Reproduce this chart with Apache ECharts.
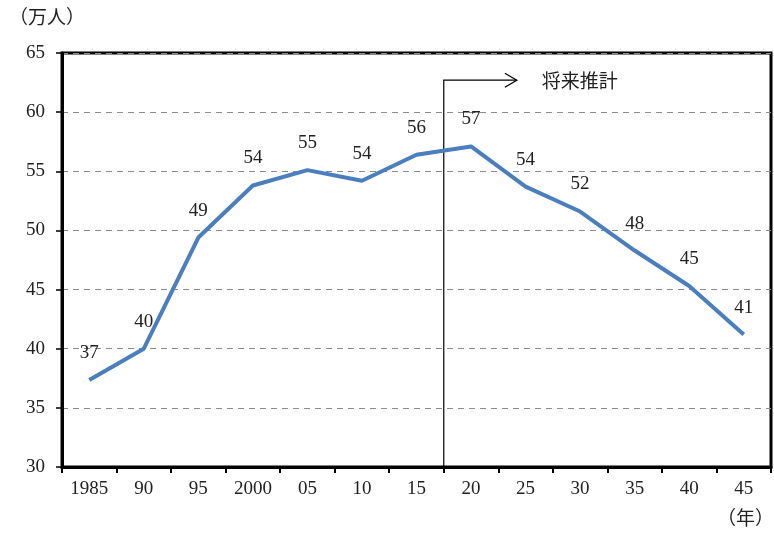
<!DOCTYPE html>
<html>
<head>
<meta charset="utf-8">
<script src="https://cdn.jsdelivr.net/npm/echarts@6/dist/echarts.min.js"></script>
<style>
  html, body { margin: 0; padding: 0; background: #fff; }
  #chart { width: 774px; height: 533px; }
</style>
</head>
<body>
<div id="chart"></div>
<script>
const years = ['1985', '90', '95', '2000', '05', '10', '15', '20', '25', '30', '35', '40', '45'];
const population = [37.35, 40.0, 49.4, 53.8, 55.1, 54.2, 56.4, 57.1, 53.7, 51.6, 48.3, 45.3, 41.2];
const valueLabels = ['37', '40', '49', '54', '55', '54', '56', '57', '54', '52', '48', '45', '41'];
const yTicks = { min: 30, max: 65, interval: 5 };

const serif = '"Liberation Serif", "DejaVu Serif", "Noto Sans CJK JP", serif';

const chart = echarts.init(document.getElementById('chart'));
chart.setOption({
  animation: false,
  textStyle: { fontFamily: serif },
  grid: {
    left: 62, right: 3, top: 53, bottom: 66,
    show: true, borderColor: '#000', borderWidth: 3
  },
  xAxis: {
    type: 'category',
    data: years,
    boundaryGap: true,
    axisLine: { lineStyle: { color: '#000', width: 3 } },
    axisTick: { show: true, length: 6, lineStyle: { color: '#000', width: 2 } },
    axisLabel: { color: '#222', fontSize: 19, fontFamily: serif, margin: 13 }
  },
  yAxis: {
    type: 'value',
    min: yTicks.min, max: yTicks.max, interval: yTicks.interval,
    axisLine: { show: true, lineStyle: { color: '#000', width: 3 } },
    axisTick: { show: true, length: 6, lineStyle: { color: '#000', width: 1.5 } },
    axisLabel: { color: '#222', fontSize: 19, fontFamily: serif, margin: 17 },
    splitLine: { lineStyle: { color: '#8c8c8c', type: [6, 5], width: 1.2 } }
  },
  series: [{
    type: 'line',
    data: population,
    symbol: 'circle',
    symbolSize: 1,
    showSymbol: true,
    itemStyle: { color: 'rgba(0,0,0,0)' },
    lineStyle: { color: '#4a7ebf', width: 4 },
    label: {
      show: true,
      position: 'top',
      distance: 17,
      color: '#222',
      fontSize: 19,
      fontFamily: serif,
      formatter: p => valueLabels[p.dataIndex]
    }
  }]
});

// annotation: vertical divider between 15 and 20, arrow and "将来推計"
const x15 = chart.convertToPixel({ xAxisIndex: 0 }, '15');
const x20 = chart.convertToPixel({ xAxisIndex: 0 }, '20');
const xDiv = (x15 + x20) / 2;
const step = x20 - x15;
const yTop = chart.convertToPixel({ yAxisIndex: 0 }, 62.7);
const yBottom = chart.convertToPixel({ yAxisIndex: 0 }, yTicks.min);
const xArrow = xDiv + step * 1.34;

chart.setOption({
  graphic: [
    { type: 'polyline', shape: { points: [[xDiv, yBottom], [xDiv, yTop], [xArrow, yTop]] },
      style: { stroke: '#000', lineWidth: 1.2, fill: null } },
    { type: 'polyline', shape: { points: [[xArrow - 12, yTop - 7], [xArrow, yTop], [xArrow - 12, yTop + 7]] },
      style: { stroke: '#000', lineWidth: 1.2, fill: null } },
    { type: 'text', x: xArrow + 25, y: yTop + 3,
      style: { text: '将来推計', fill: '#222', font: '19px ' + serif, textVerticalAlign: 'middle' } },
    { type: 'text', left: 9, top: 10,
      style: { text: '（万人）', fill: '#222', font: '19px ' + serif } },
    { type: 'text', right: 0, top: 511,
      style: { text: '（年）', fill: '#222', font: '19px ' + serif } }
  ]
});
</script>
</body>
</html>
